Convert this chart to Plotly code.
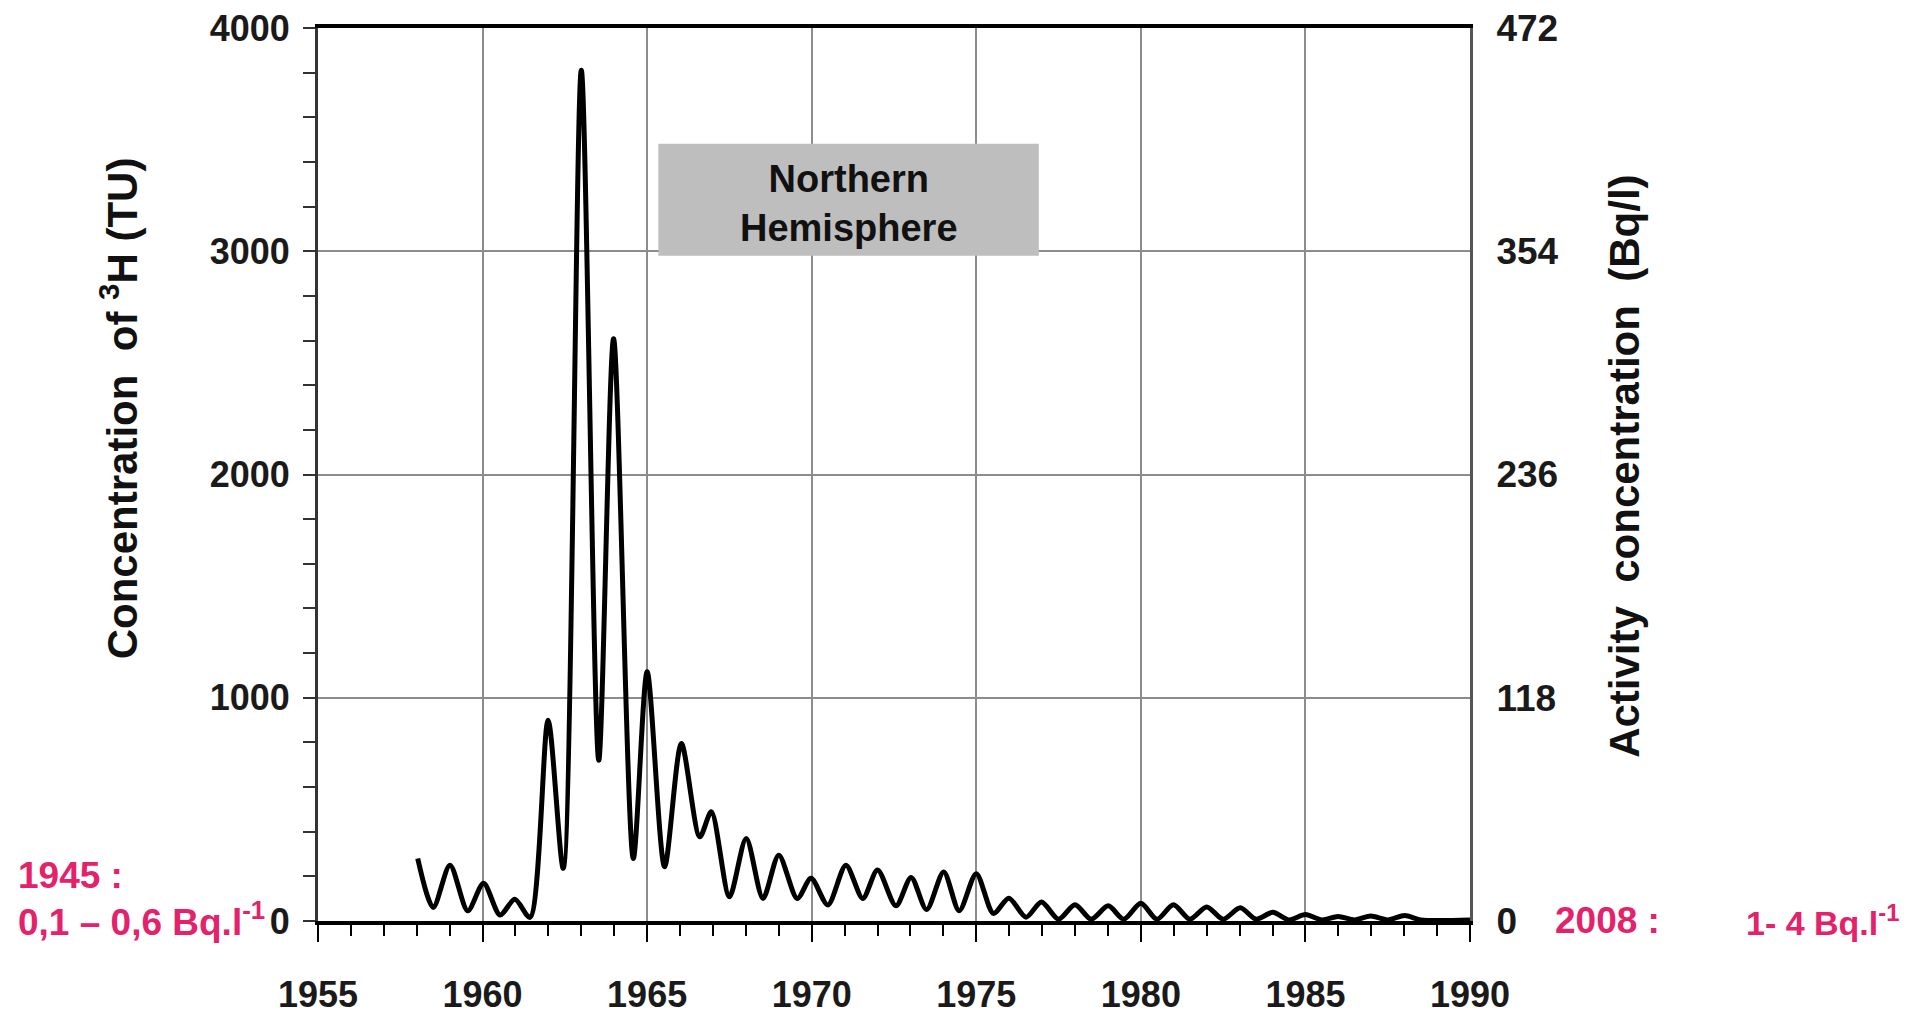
import plotly.graph_objects as go

# ---- data ----
years = [1958.03, 1958.5, 1959.01, 1959.55, 1960.03, 1960.53, 1960.98, 1961.44,
         1961.99, 1962.45, 1963.0, 1963.53, 1963.98, 1964.58, 1965.0, 1965.53,
         1966.04, 1966.6, 1966.95, 1967.5, 1968.01, 1968.52, 1969.0, 1969.56,
         1969.98, 1970.49, 1971.04, 1971.55, 1972.0, 1972.56, 1973.02, 1973.49,
         1974.01, 1974.48, 1975.0, 1975.52, 1975.99, 1976.51, 1976.98, 1977.5,
         1978.0, 1978.49, 1979.01, 1979.48, 1980.0, 1980.49, 1980.99, 1981.49,
         1982.0, 1982.5, 1983.02, 1983.5, 1984.01, 1984.5, 1985.0, 1985.5,
         1985.99, 1986.5, 1986.98, 1987.5, 1988.02, 1988.5, 1990.0]
tritium_tu = [280, 61, 250, 46, 169, 27, 97, 16,
              899, 236, 3811, 720, 2608, 280, 1116, 243,
              795, 377, 489, 109, 370, 101, 295, 101,
              191, 72, 250, 101, 228, 68, 195, 51,
              220, 46, 212, 34, 102, 17, 85, 8,
              73, 8, 68, 8, 80, 8, 73, 8,
              63, 8, 59, 8, 39, 5, 29, 5,
              20, 5, 22, 5, 25, 5, 5]

TU_TO_BQ = 0.118
x_ticks = [1955, 1960, 1965, 1970, 1975, 1980, 1985, 1990]
y_ticks = [0, 1000, 2000, 3000, 4000]
y2_ticks = [0, 118, 236, 354, 472]

box_label = "Northern<br>Hemisphere"
left_title = "Concentration  of <sup>3</sup>H (TU)"
right_title = "Activity  concentration  (Bq/l)"
note_1945_a = "1945 :"
note_1945_b = "0,1 – 0,6 Bq.l<sup>-1</sup>"
note_2008_a = "2008 :"
note_2008_b = "1- 4 Bq.l<sup>-1</sup>"

FONT = "Liberation Sans Narrow, Arial Narrow, Liberation Sans, Arial, sans-serif"
PINK = "#E3226B"
TXT = "#1a1a1a"

fig = go.Figure()
fig.add_trace(go.Scatter(
    x=years, y=tritium_tu, mode="lines",
    line=dict(color="black", width=5, shape="spline", smoothing=0.8),
    hoverinfo="skip", showlegend=False))
fig.add_trace(go.Scatter(
    x=years, y=[v * TU_TO_BQ for v in tritium_tu], mode="lines", yaxis="y2",
    line=dict(color="rgba(0,0,0,0)", width=0), hoverinfo="skip", showlegend=False))

fig.update_layout(
    width=1910, height=1017,
    margin=dict(l=318, r=440, t=28, b=96, autoexpand=False),
    paper_bgcolor="white", plot_bgcolor="white",
    xaxis=dict(
        range=[1955, 1990], tickvals=x_ticks, automargin=False,
        showgrid=True, gridcolor="#8c8c8c", gridwidth=2,
        showline=True, linecolor="black", linewidth=4, mirror=True,
        ticks="outside", ticklen=17, tickwidth=2, tickcolor="black",
        minor=dict(dtick=1, ticks="outside", ticklen=11, tickwidth=2,
                   tickcolor="black", showgrid=False),
        tickfont=dict(family=FONT, size=36, color=TXT, weight="bold"),
        ticklabelstandoff=22, zeroline=False),
    yaxis=dict(
        range=[0, 4000], tickvals=y_ticks, automargin=False,
        showgrid=True, gridcolor="#8c8c8c", gridwidth=2,
        showline=True, linecolor="#333333", linewidth=3,
        ticks="outside", ticklen=12, tickwidth=2, tickcolor="#333333",
        minor=dict(dtick=200, ticks="outside", ticklen=12, tickwidth=2,
                   tickcolor="#333333", showgrid=False),
        tickfont=dict(family=FONT, size=36, color=TXT, weight="bold"),
        ticklabelstandoff=6, zeroline=False),
    yaxis2=dict(
        overlaying="y", side="right", range=[0, 472], tickvals=y2_ticks,
        automargin=False, showgrid=False, zeroline=False,
        showline=True, linecolor="#555555", linewidth=3, ticks="",
        tickfont=dict(family=FONT, size=37, color=TXT, weight="bold"),
        ticklabelstandoff=16),
)

# grey label box
fig.add_shape(type="rect", xref="x", yref="y", x0=1965.34, x1=1976.9, y0=2980, y1=3481,
              fillcolor="#BEBEBE", line=dict(width=0), layer="above")
fig.add_annotation(xref="x", yref="y", x=(1965.34 + 1976.9) / 2, y=(2980 + 3481) / 2 - 15,
                   text=box_label, showarrow=False, xanchor="center", yanchor="middle",
                   font=dict(family=FONT, size=38, color="#111111", weight="bold"))

# axis titles
fig.add_annotation(xref="paper", yref="paper", x=-0.172, y=0.574, text=left_title,
                   textangle=-90, showarrow=False, xanchor="center", yanchor="middle",
                   font=dict(family=FONT, size=42, color="#111111", weight="bold"))
fig.add_annotation(xref="paper", yref="paper", x=1.134, y=0.509, text=right_title,
                   textangle=-90, showarrow=False, xanchor="center", yanchor="middle",
                   font=dict(family=FONT, size=42, color="#111111", weight="bold"))

# pink notes
fig.add_annotation(xref="paper", yref="paper", x=-0.2625, y=0.0515, text=note_1945_a,
                   xanchor="left", yanchor="middle", showarrow=False,
                   font=dict(family=FONT, size=37, color=PINK, weight="bold"))
fig.add_annotation(xref="paper", yref="paper", x=-0.2625, y=0.002, text=note_1945_b,
                   xanchor="left", yanchor="middle", showarrow=False,
                   font=dict(family=FONT, size=37, color=PINK, weight="bold"))
fig.add_annotation(xref="paper", yref="paper", x=1.0719, y=0.001, text=note_2008_a,
                   xanchor="left", yanchor="middle", showarrow=False,
                   font=dict(family=FONT, size=37, color=PINK, weight="bold"))
fig.add_annotation(xref="paper", yref="paper", x=1.3744, y=0.001, text=note_2008_b,
                   xanchor="right", yanchor="middle", showarrow=False,
                   font=dict(family=FONT, size=34, color=PINK, weight="bold"))

fig.write_html("out.html", config={"displayModeBar": False},
               post_script="document.body.style.margin='0';document.body.style.padding='0';")
